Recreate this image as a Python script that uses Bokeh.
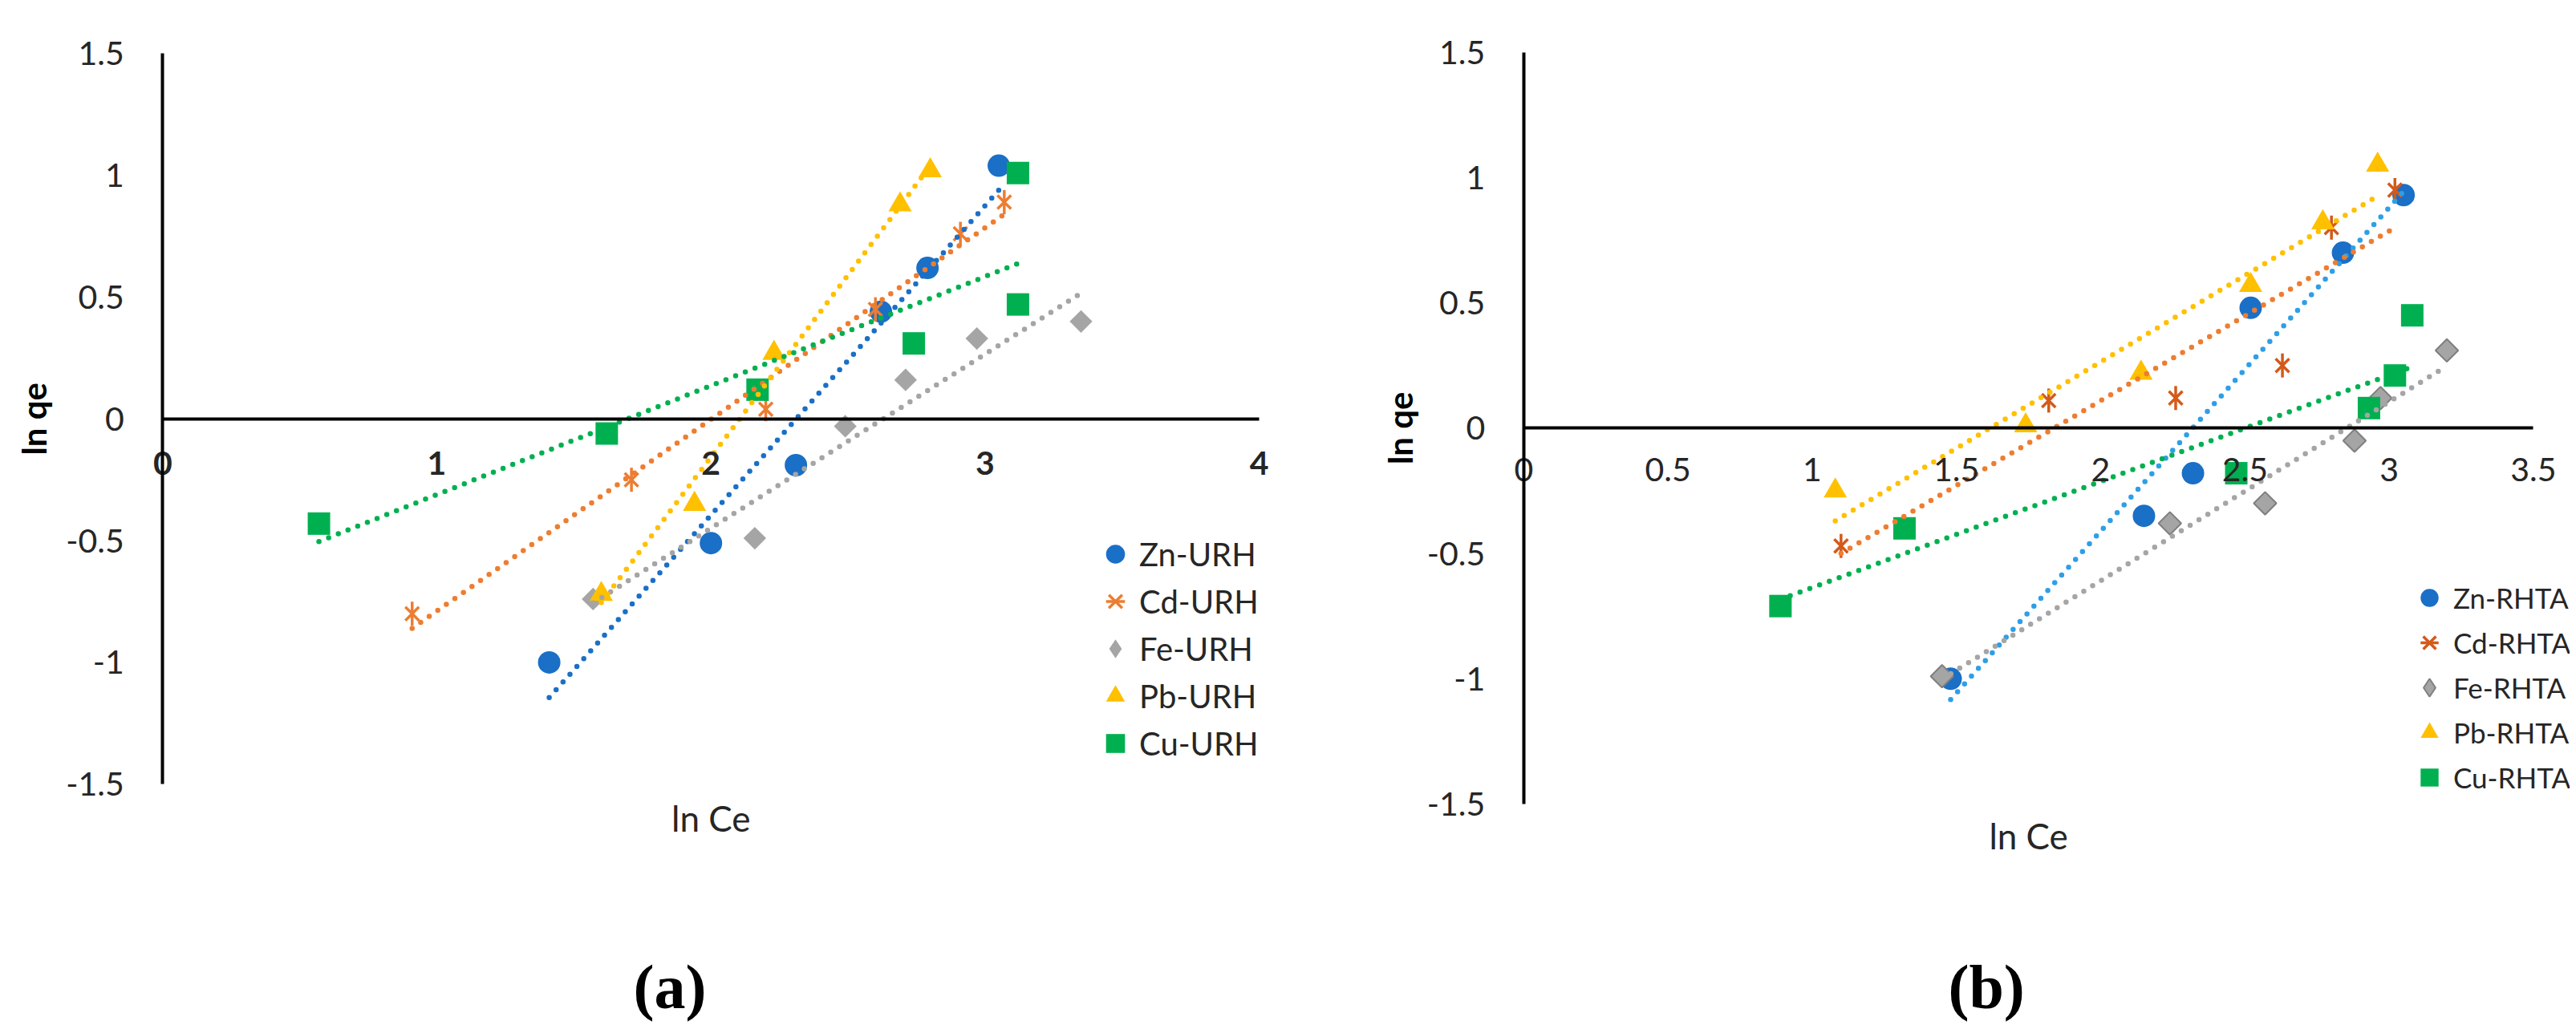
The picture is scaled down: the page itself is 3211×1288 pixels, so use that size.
import math
import numpy as np
from bokeh.plotting import figure
from bokeh.models import (Range1d, FixedTicker, Label, LinearAxis, Legend, LegendItem)
from bokeh.embed import file_html
from bokeh.resources import INLINE

FONT = "Lato"
TXT = "#262626"

# ---------------- Panel (a): URH ----------------
a_series = ["Zn-URH", "Cd-URH", "Fe-URH", "Pb-URH", "Cu-URH"]
zn_urh_x = [1.41, 2.00, 2.31, 2.62, 2.79, 3.05]
zn_urh_y = [-1.00, -0.51, -0.19, 0.44, 0.62, 1.04]
cd_urh_x = [0.91, 1.71, 2.20, 2.60, 2.91, 3.07]
cd_urh_y = [-0.80, -0.25, 0.04, 0.45, 0.76, 0.89]
fe_urh_x = [1.57, 2.16, 2.49, 2.71, 2.97, 3.35]
fe_urh_y = [-0.74, -0.49, -0.03, 0.16, 0.33, 0.40]
pb_urh_x = [1.60, 1.94, 2.23, 2.69, 2.80]
pb_urh_y = [-0.72, -0.35, 0.27, 0.88, 1.02]
cu_urh_x = [0.57, 1.62, 2.17, 2.74, 3.12, 3.12]
cu_urh_y = [-0.43, -0.06, 0.12, 0.31, 0.47, 1.01]
a_x_ticks = [0, 1, 2, 3, 4]
a_x_tick_labels = ["0", "1", "2", "3", "4"]

# ---------------- Panel (b): RHTA ----------------
b_series = ["Zn-RHTA", "Cd-RHTA", "Fe-RHTA", "Pb-RHTA", "Cu-RHTA"]
zn_rhta_x = [1.48, 2.15, 2.32, 2.52, 2.84, 3.05]
zn_rhta_y = [-1.00, -0.35, -0.18, 0.48, 0.70, 0.93]
cd_rhta_x = [1.10, 1.82, 2.26, 2.63, 2.80, 3.02]
cd_rhta_y = [-0.47, 0.11, 0.12, 0.25, 0.80, 0.95]
fe_rhta_x = [1.45, 2.24, 2.57, 2.88, 2.97, 3.20]
fe_rhta_y = [-0.99, -0.38, -0.30, -0.05, 0.12, 0.31]
pb_rhta_x = [1.08, 1.74, 2.14, 2.52, 2.77, 2.96]
pb_rhta_y = [-0.25, 0.01, 0.22, 0.57, 0.82, 1.05]
cu_rhta_x = [0.89, 1.32, 2.47, 2.93, 3.02, 3.08]
cu_rhta_y = [-0.71, -0.40, -0.18, 0.08, 0.21, 0.45]
b_x_ticks = [0, 0.5, 1, 1.5, 2, 2.5, 3, 3.5]
b_x_tick_labels = ["0", "0.5", "1", "1.5", "2", "2.5", "3", "3.5"]

y_ticks = [-1.5, -1, -0.5, 0, 0.5, 1, 1.5]
y_tick_labels = ["-1.5", "-1", "-0.5", "0", "0.5", "1", "1.5"]

BLUE = "#1a6fc6"
ORANGE = "#ed7d31"
DKORANGE = "#d35a1a"
GRAY = "#a5a5a5"
GOLD = "#ffc000"
GREEN = "#00b050"

# ---------------- canvas / frame geometry (pixels) ----------------
W, H = 3203, 1280


def px_range(origin_px, unit_px, total_px, flip=False):
    if not flip:
        return Range1d(-origin_px / unit_px, (total_px - origin_px) / unit_px)
    return Range1d(-(total_px - origin_px) / unit_px, origin_px / unit_px)


# panel a: origin at (202.3, 521.8) px, 341.7 px per x unit, 303.6 px per y unit
xa = px_range(202.3, 341.7, W)
ya = px_range(521.8, 303.6, H, flip=True)
# panel b: origin at (1898.8, 533.3) px, 359.6 px per x unit, 312.5 px per y unit
xb = px_range(1898.8, 359.6, W)
yb = px_range(533.3, 312.5, H, flip=True)

p = figure(width=W, height=H, x_range=xa, y_range=ya,
           extra_x_ranges={"xb": xb}, extra_y_ranges={"yb": yb},
           output_backend="svg", toolbar_location=None, title=None,
           x_axis_type=None, y_axis_type=None, min_border=0)
p.outline_line_color = None
p.background_fill_color = "white"
p.border_fill_color = "white"


def draw_markers(kind, x, y, color, rn, outline=None):
    kw = dict(x_range_name=rn[0], y_range_name=rn[1])
    if kind == "circle":
        return [p.scatter(x, y, marker="circle", size=28, fill_color=color, line_color=None, **kw)]
    if kind == "star":
        r1 = p.scatter(x, y, marker="x", size=24, line_color=color, line_width=3.5, **kw)
        r2 = p.scatter(x, y, marker="dash", angle=math.pi / 2, size=30, line_color=color,
                       line_width=3.5, **kw)
        return [r1, r2]
    if kind == "diamond":
        lw = 2 if outline else 0
        r_leg = p.scatter(x, y, marker="diamond", size=26, fill_color=color,
                          line_color=outline, line_width=lw, **kw)
        p.scatter(x, y, marker="square", angle=math.pi / 4, size=20, fill_color=color,
                  line_color=outline, line_width=lw, **kw)
        return [r_leg]
    if kind == "triangle":
        return [p.scatter(x, y, marker="triangle", size=29, fill_color=color, line_color=None, **kw)]
    return [p.scatter(x, y, marker="square", size=28, fill_color=color, line_color=None, **kw)]


def draw_trend(x, y, color, rn):
    k, b = np.polyfit(np.array(x), np.array(y), 1)
    xs = np.array([min(x), max(x)])
    p.line(xs, k * xs + b, line_color=color, line_width=6.5, line_dash="0 13", line_cap="round",
           x_range_name=rn[0], y_range_name=rn[1])


def build_panel(series, rn, x_end, x_ticks, x_labels, x_bold, x_lab_standoff,
                legend_loc, legend_h, legend_font, caption, cap_x, cap_off, xt_off, yt_off):
    items = []
    for (name, kind, x, y, color, tcolor, outline) in series:
        rs = draw_markers(kind, x, y, color, rn, outline)
        items.append(LegendItem(label=name, renderers=rs))
    for (name, kind, x, y, color, tcolor, outline) in series:
        draw_trend(x, y, tcolor, rn)

    xax = LinearAxis(x_range_name=rn[0], y_range_name=rn[1], fixed_location=0, bounds=(0, x_end),
                     ticker=FixedTicker(ticks=x_ticks))
    xax.major_label_overrides = {float(t): l for t, l in zip(x_ticks, x_labels)}
    yax = LinearAxis(x_range_name=rn[0], y_range_name=rn[1], fixed_location=0, bounds=(-1.5, 1.5),
                     ticker=FixedTicker(ticks=y_ticks))
    yax.major_label_overrides = {float(t): l for t, l in zip(y_ticks, y_tick_labels)}
    for ax in (xax, yax):
        ax.axis_line_width = 4
        ax.axis_line_color = "black"
        ax.major_tick_line_color = None
        ax.minor_tick_line_color = None
        ax.major_label_text_font = FONT
        ax.major_label_text_font_size = "41px"
        ax.major_label_text_color = TXT
    xax.major_label_text_font_style = "bold" if x_bold else "normal"
    xax.major_label_standoff = x_lab_standoff
    yax.major_label_standoff = 42
    p.add_layout(xax, "below")
    p.add_layout(yax, "left")

    lg = Legend(items=items, location=legend_loc, glyph_width=60, glyph_height=legend_h,
                label_height=legend_h, label_standoff=-7, padding=0, margin=0, spacing=0,
                border_line_color=None, background_fill_alpha=0, label_text_font=FONT,
                label_text_font_size=legend_font, label_text_color=TXT)
    p.add_layout(lg)

    kw = dict(x_range_name=rn[0], y_range_name=rn[1])
    p.add_layout(Label(x=x_end / 2, y=-1.5, y_offset=xt_off, text="ln Ce", text_font=FONT,
                       text_font_size="44px", text_align="center", text_baseline="middle",
                       text_color=TXT, **kw))
    p.add_layout(Label(x=0, y=0, x_offset=yt_off, angle=math.pi / 2, text="ln qe", text_font=FONT,
                       text_font_size="42px", text_font_style="bold", text_align="center",
                       text_baseline="middle", text_color="black", **kw))
    p.add_layout(Label(x=cap_x, y=-1.5, y_offset=cap_off, text=caption,
                       text_font="Liberation Serif", text_font_style="bold", text_font_size="78px",
                       text_align="center", text_baseline="alphabetic", text_color="black", **kw))


series_a = [
    (a_series[0], "circle", zn_urh_x, zn_urh_y, BLUE, BLUE, None),
    (a_series[1], "star", cd_urh_x, cd_urh_y, ORANGE, ORANGE, None),
    (a_series[2], "diamond", fe_urh_x, fe_urh_y, GRAY, GRAY, None),
    (a_series[3], "triangle", pb_urh_x, pb_urh_y, GOLD, GOLD, None),
    (a_series[4], "square", cu_urh_x, cu_urh_y, GREEN, GREEN, None),
]
series_b = [
    (b_series[0], "circle", zn_rhta_x, zn_rhta_y, BLUE, "#2e9fe6", None),
    (b_series[1], "star", cd_rhta_x, cd_rhta_y, DKORANGE, ORANGE, None),
    (b_series[2], "diamond", fe_rhta_x, fe_rhta_y, GRAY, GRAY, "#7f7f7f"),
    (b_series[3], "triangle", pb_rhta_x, pb_rhta_y, GOLD, GOLD, None),
    (b_series[4], "square", cu_rhta_x, cu_rhta_y, GREEN, GREEN, None),
]

build_panel(series_a, ("default", "default"), 4, a_x_ticks, a_x_tick_labels, True, 35,
            (1360, 324), 59, "40px", "(a)", 1.85, -253, -42, -161)
build_panel(series_b, ("xb", "yb"), 3.5, b_x_ticks, b_x_tick_labels, False, 31,
            (2998, 283), 56, "35px", "(b)", 1.604, -228, -39, -154)

open("out.html", "w").write(file_html(p, INLINE))
